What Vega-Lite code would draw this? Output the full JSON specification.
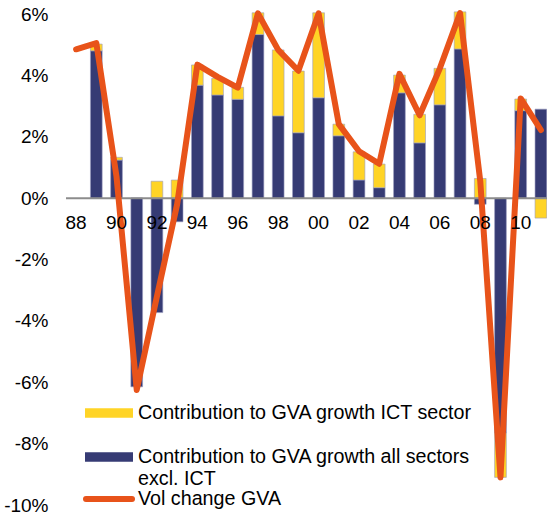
{
  "$schema": "https://vega.github.io/schema/vega-lite/v6.json",
  "width": 485,
  "height": 491,
  "autosize": "none",
  "padding": {"left": 66, "top": 14, "right": 0, "bottom": 12},
  "config": {
    "view": {"stroke": null},
    "font": "Liberation Sans",
    "axis": {"labelFont": "Liberation Sans", "labelFontSize": 19, "labelColor": "#000000", "grid": false, "domain": false, "ticks": false, "tickSize": 0, "title": null},
    "legend": {"labelFont": "Liberation Sans", "labelFontSize": 19.7, "labelColor": "#000000", "padding": 0, "labelLimit": 600}
  },
  "datasets": {
    "bars": [
      {"year": 1989, "series": "Contribution to GVA growth all sectors excl. ICT", "ord": 1, "value": 4.8},
      {"year": 1989, "series": "Contribution to GVA growth ICT sector", "ord": 2, "value": 0.22},
      {"year": 1990, "series": "Contribution to GVA growth all sectors excl. ICT", "ord": 1, "value": 1.24},
      {"year": 1990, "series": "Contribution to GVA growth ICT sector", "ord": 2, "value": 0.09},
      {"year": 1991, "series": "Contribution to GVA growth all sectors excl. ICT", "ord": 1, "value": -6.15},
      {"year": 1991, "series": "Contribution to GVA growth ICT sector", "ord": 2, "value": 0},
      {"year": 1992, "series": "Contribution to GVA growth all sectors excl. ICT", "ord": 1, "value": -3.73},
      {"year": 1992, "series": "Contribution to GVA growth ICT sector", "ord": 2, "value": 0.55},
      {"year": 1993, "series": "Contribution to GVA growth all sectors excl. ICT", "ord": 1, "value": -0.77},
      {"year": 1993, "series": "Contribution to GVA growth ICT sector", "ord": 2, "value": 0.59},
      {"year": 1994, "series": "Contribution to GVA growth all sectors excl. ICT", "ord": 1, "value": 3.68},
      {"year": 1994, "series": "Contribution to GVA growth ICT sector", "ord": 2, "value": 0.66},
      {"year": 1995, "series": "Contribution to GVA growth all sectors excl. ICT", "ord": 1, "value": 3.36},
      {"year": 1995, "series": "Contribution to GVA growth ICT sector", "ord": 2, "value": 0.54},
      {"year": 1996, "series": "Contribution to GVA growth all sectors excl. ICT", "ord": 1, "value": 3.22},
      {"year": 1996, "series": "Contribution to GVA growth ICT sector", "ord": 2, "value": 0.39},
      {"year": 1997, "series": "Contribution to GVA growth all sectors excl. ICT", "ord": 1, "value": 5.33},
      {"year": 1997, "series": "Contribution to GVA growth ICT sector", "ord": 2, "value": 0.71},
      {"year": 1998, "series": "Contribution to GVA growth all sectors excl. ICT", "ord": 1, "value": 2.68},
      {"year": 1998, "series": "Contribution to GVA growth ICT sector", "ord": 2, "value": 2.15},
      {"year": 1999, "series": "Contribution to GVA growth all sectors excl. ICT", "ord": 1, "value": 2.13},
      {"year": 1999, "series": "Contribution to GVA growth ICT sector", "ord": 2, "value": 2.01},
      {"year": 2000, "series": "Contribution to GVA growth all sectors excl. ICT", "ord": 1, "value": 3.27},
      {"year": 2000, "series": "Contribution to GVA growth ICT sector", "ord": 2, "value": 2.77},
      {"year": 2001, "series": "Contribution to GVA growth all sectors excl. ICT", "ord": 1, "value": 2.03},
      {"year": 2001, "series": "Contribution to GVA growth ICT sector", "ord": 2, "value": 0.38},
      {"year": 2002, "series": "Contribution to GVA growth all sectors excl. ICT", "ord": 1, "value": 0.59},
      {"year": 2002, "series": "Contribution to GVA growth ICT sector", "ord": 2, "value": 0.92},
      {"year": 2003, "series": "Contribution to GVA growth all sectors excl. ICT", "ord": 1, "value": 0.34},
      {"year": 2003, "series": "Contribution to GVA growth ICT sector", "ord": 2, "value": 0.77},
      {"year": 2004, "series": "Contribution to GVA growth all sectors excl. ICT", "ord": 1, "value": 3.43},
      {"year": 2004, "series": "Contribution to GVA growth ICT sector", "ord": 2, "value": 0.58},
      {"year": 2005, "series": "Contribution to GVA growth all sectors excl. ICT", "ord": 1, "value": 1.8},
      {"year": 2005, "series": "Contribution to GVA growth ICT sector", "ord": 2, "value": 0.93},
      {"year": 2006, "series": "Contribution to GVA growth all sectors excl. ICT", "ord": 1, "value": 3.04},
      {"year": 2006, "series": "Contribution to GVA growth ICT sector", "ord": 2, "value": 1.19},
      {"year": 2007, "series": "Contribution to GVA growth all sectors excl. ICT", "ord": 1, "value": 4.86},
      {"year": 2007, "series": "Contribution to GVA growth ICT sector", "ord": 2, "value": 1.21},
      {"year": 2008, "series": "Contribution to GVA growth all sectors excl. ICT", "ord": 1, "value": -0.2},
      {"year": 2008, "series": "Contribution to GVA growth ICT sector", "ord": 2, "value": 0.64},
      {"year": 2009, "series": "Contribution to GVA growth all sectors excl. ICT", "ord": 1, "value": -7.65},
      {"year": 2009, "series": "Contribution to GVA growth ICT sector", "ord": 2, "value": -1.45},
      {"year": 2010, "series": "Contribution to GVA growth all sectors excl. ICT", "ord": 1, "value": 2.85},
      {"year": 2010, "series": "Contribution to GVA growth ICT sector", "ord": 2, "value": 0.38},
      {"year": 2011, "series": "Contribution to GVA growth all sectors excl. ICT", "ord": 1, "value": 2.9},
      {"year": 2011, "series": "Contribution to GVA growth ICT sector", "ord": 2, "value": -0.65}
    ],
    "line": [
      {"year": 1988, "gva": 4.85},
      {"year": 1989, "gva": 5.05},
      {"year": 1990, "gva": 0.7},
      {"year": 1991, "gva": -6.25},
      {"year": 1992, "gva": -3.2},
      {"year": 1993, "gva": -0.2},
      {"year": 1994, "gva": 4.35},
      {"year": 1995, "gva": 3.95},
      {"year": 1996, "gva": 3.6},
      {"year": 1997, "gva": 6.02},
      {"year": 1998, "gva": 4.83},
      {"year": 1999, "gva": 4.15},
      {"year": 2000, "gva": 6.02},
      {"year": 2001, "gva": 2.41},
      {"year": 2002, "gva": 1.53},
      {"year": 2003, "gva": 1.12},
      {"year": 2004, "gva": 4.05},
      {"year": 2005, "gva": 2.7},
      {"year": 2006, "gva": 4.23},
      {"year": 2007, "gva": 6.03},
      {"year": 2008, "gva": 0.55},
      {"year": 2009, "gva": -9.1},
      {"year": 2010, "gva": 3.25},
      {"year": 2011, "gva": 2.22}
    ]
  },
  "layer": [
    {
      "data": {"name": "bars"},
      "mark": {"type": "bar", "width": {"band": 0.58}, "stroke": "#9a9cc0", "strokeWidth": 0.6},
      "encoding": {
        "x": {
          "field": "year", "type": "ordinal",
          "scale": {"paddingInner": 0, "paddingOuter": 0},
          "axis": {"values": [1988, 1990, 1992, 1994, 1996, 1998, 2000, 2002, 2004, 2006, 2008, 2010], "labelExpr": "substring(datum.label, 2)", "labelAngle": 0, "offset": -307, "labelPadding": 15, "labelFlush": false, "zindex": 1}
        },
        "y": {
          "field": "value", "type": "quantitative", "stack": "zero",
          "scale": {"domain": [-10, 6], "nice": false, "zero": false},
          "axis": {"values": [-10, -8, -6, -4, -2, 0, 2, 4, 6], "labelExpr": "datum.value + '%'", "labelPadding": 18}
        },
        "fill": {
          "field": "series", "type": "nominal",
          "scale": {"domain": ["Contribution to GVA growth ICT sector", "Contribution to GVA growth all sectors excl. ICT"], "range": ["#FFD426", "#363B74"]},
          "legend": {
            "title": null, "orient": "none", "legendX": 19, "legendY": 388,
            "symbolType": "M-1,-0.2H1V0.2H-1Z", "symbolSize": 2304, "symbolStrokeWidth": 0, "symbolOpacity": 1,
            "labelOffset": 5, "clipHeight": 22, "rowPadding": 22,
            "labelExpr": "indexof(datum.label, 'excl') > 0 ? ['Contribution to GVA growth all sectors', 'excl. ICT'] : datum.label"
          }
        },
        "order": {"field": "ord", "type": "quantitative"}
      }
    },
    {
      "data": {"values": [{"zero": 0}]},
      "mark": {"type": "rule", "color": "#8c8c8c", "strokeWidth": 2},
      "encoding": {"y": {"field": "zero", "type": "quantitative"}}
    },
    {
      "data": {"name": "line"},
      "mark": {"type": "line", "strokeWidth": 6, "strokeCap": "round", "strokeJoin": "round"},
      "encoding": {
        "x": {"field": "year", "type": "ordinal"},
        "y": {"field": "gva", "type": "quantitative"},
        "stroke": {
          "datum": "Vol change GVA",
          "scale": {"domain": ["Vol change GVA"], "range": ["#E8531A"]},
          "legend": {
            "title": null, "orient": "none", "legendX": 17, "legendY": 474,
            "symbolType": "stroke", "symbolSize": 2116, "symbolStrokeWidth": 6,
            "labelOffset": 3, "clipHeight": 22,
            "encode": {"symbols": {"update": {"strokeCap": {"value": "round"}}}}
          }
        }
      }
    }
  ]
}
